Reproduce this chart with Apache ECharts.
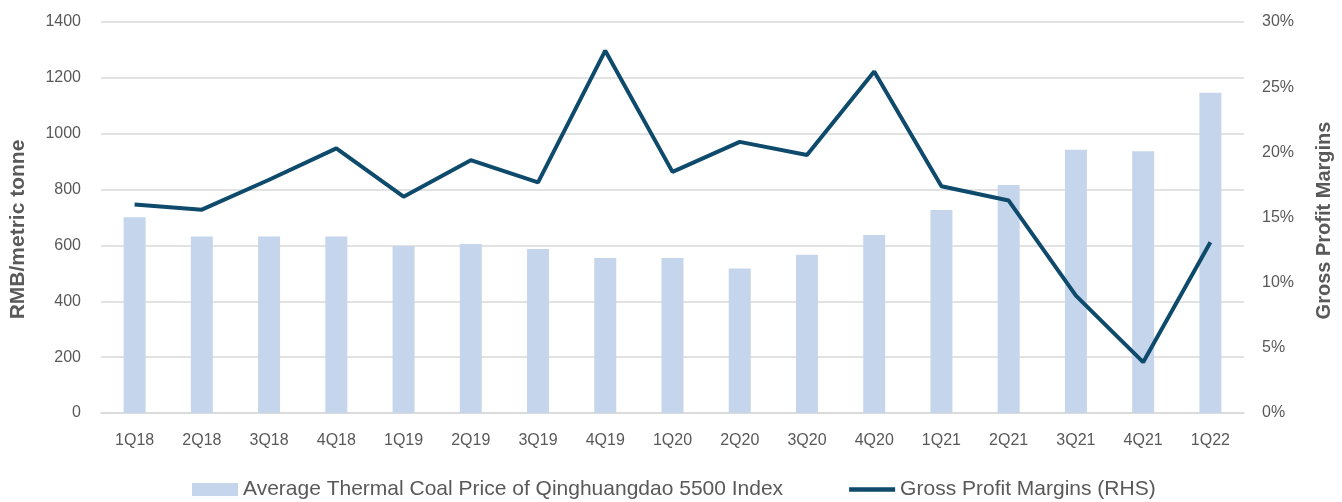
<!DOCTYPE html>
<html>
<head>
<meta charset="utf-8">
<script src="https://cdn.jsdelivr.net/npm/echarts@6/dist/echarts.min.js"></script>
<style>html,body{margin:0;padding:0;background:#fff}#c{width:1342px;height:502px}</style>
</head>
<body>
<div id="c"></div>
<script>
const categories = ['1Q18','2Q18','3Q18','4Q18','1Q19','2Q19','3Q19','4Q19','1Q20','2Q20','3Q20','4Q20','1Q21','2Q21','3Q21','4Q21','1Q22'];
const coalPrice = [701, 632, 632, 632, 598, 605, 587, 555, 555, 517, 567, 637, 727, 816, 943, 937, 1147];
const grossMargin = [16.0, 15.6, 17.9, 20.3, 16.6, 19.4, 17.7, 27.8, 18.5, 20.8, 19.8, 26.2, 17.4, 16.3, 9.0, 3.9, 13.1];
const barName = 'Average Thermal Coal Price of Qinghuangdao 5500 Index';
const lineName = 'Gross Profit Margins (RHS)';

const FONT = '"Liberation Sans", Arial, sans-serif';
const TXT = '#595959';
const BAR = '#C5D6EC';
const LINE = '#0E4A6B';
const chart = echarts.init(document.getElementById('c'));
chart.setOption({
  animation: false,
  textStyle: {fontFamily: FONT},
  grid: {left: 100, right: 98, top: 22, bottom: 89},
  legend: {
    left: 187, top: 474,
    itemGap: 66,
    itemWidth: 46, itemHeight: 13,
    textStyle: {color: TXT, fontSize: 21, fontFamily: FONT},
    data: [
      {name: barName, icon: 'rect', itemStyle: {color: BAR}},
      {name: lineName, icon: 'path://M0,0 L51,0 L51,5 L0,5 Z', itemStyle: {color: LINE}}
    ]
  },
  xAxis: {
    type: 'category', data: categories,
    axisLine: {lineStyle: {color: '#D9D9D9', width: 1.5}},
    axisTick: {show: false},
    axisLabel: {color: TXT, fontSize: 16, margin: 20}
  },
  yAxis: [
    {
      type: 'value', min: 0, max: 1400, interval: 200,
      name: 'RMB/metric tonne', nameLocation: 'middle', nameGap: 72, nameRotate: 90,
      nameTextStyle: {color: TXT, fontSize: 21, fontWeight: 'bold', padding: [0, 24, 0, 0]},
      axisLine: {show: false}, axisTick: {show: false},
      axisLabel: {color: TXT, fontSize: 16, margin: 20, formatter: v => String(v)},
      splitLine: {lineStyle: {color: '#D9D9D9', width: 1.5}}
    },
    {
      type: 'value', min: 0, max: 30, interval: 5,
      name: 'Gross Profit Margins', nameLocation: 'middle', nameGap: 70, nameRotate: 90,
      nameTextStyle: {color: TXT, fontSize: 20, fontWeight: 'bold', padding: [0, 6, 0, 0]},
      axisLine: {show: false}, axisTick: {show: false},
      axisLabel: {color: TXT, fontSize: 16, margin: 18, formatter: '{value}%'},
      splitLine: {show: false}
    }
  ],
  series: [
    {
      name: barName, type: 'bar', data: coalPrice, yAxisIndex: 0,
      barWidth: 22,
      itemStyle: {color: BAR}
    },
    {
      name: lineName, type: 'line', data: grossMargin, yAxisIndex: 1,
      symbol: 'none',
      lineStyle: {color: LINE, width: 4},
      itemStyle: {color: LINE}
    }
  ]
});
</script>
</body>
</html>
